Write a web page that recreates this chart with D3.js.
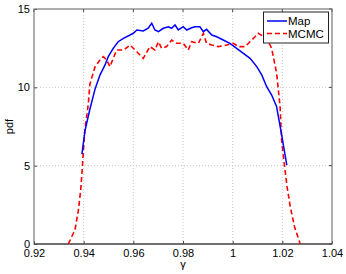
<!DOCTYPE html>
<html>
<head>
<meta charset="utf-8">
<script src="https://cdn.jsdelivr.net/npm/d3@7"></script>
<style>
  body { margin: 0; background: #fff; }
  text { font-family: "Liberation Sans", Arial, sans-serif; fill: #000; }
</style>
</head>
<body>
<div id="chart"></div>
<script>
// Map estimate
const mapGamma = [0.9393, 0.9405, 0.9425, 0.9446, 0.9466, 0.9486, 0.9499, 0.9519, 0.9539, 0.9560,
  0.9587, 0.9600, 0.9614, 0.9640, 0.9660, 0.9674, 0.9687, 0.9701, 0.9721, 0.9741, 0.9754, 0.9768,
  0.9781, 0.9801, 0.9815, 0.9835, 0.9848, 0.9868, 0.9882, 0.9895, 0.9916, 0.9936, 0.9962, 0.9989,
  1.0016, 1.0043, 1.0070, 1.0097, 1.0117, 1.0137, 1.0157, 1.0177, 1.0197, 1.0218];
const mapPdf = [5.74, 7.2, 8.6, 9.9, 10.8, 11.43, 11.96, 12.49, 12.91, 13.13,
  13.34, 13.45, 13.66, 13.6, 13.77, 14.09, 13.66, 13.55, 13.77, 13.87, 13.77, 13.98,
  13.66, 13.87, 13.66, 13.8, 13.87, 13.87, 13.55, 13.7, 13.34, 13.23, 13.02, 12.81,
  12.49, 12.17, 11.85, 11.32, 10.79, 10.04, 9.51, 8.76, 7.0, 5.04];

// MCMC samples
const mcmcGamma = [0.9338, 0.9365, 0.9379, 0.9388, 0.9394, 0.9399, 0.9405, 0.9419, 0.9425, 0.9446,
  0.9466, 0.9479, 0.9493, 0.9506, 0.9519, 0.9533, 0.9560, 0.9587, 0.9614, 0.9640, 0.9667, 0.9687,
  0.9701, 0.9714, 0.9734, 0.9754, 0.9775, 0.9801, 0.9821, 0.9835, 0.9862, 0.9882, 0.9895, 0.9916,
  0.9942, 0.9976, 1.0003, 1.0023, 1.0050, 1.0070, 1.0090, 1.0103, 1.0137, 1.0157, 1.0177, 1.0191,
  1.0197, 1.0206, 1.0219, 1.0232, 1.0249, 1.0272];
const mcmcPdf = [0, 0.9, 2.17, 3.45, 4.72, 6.0, 7.28, 8.98, 10.2, 11.32,
  11.74, 11.96, 11.74, 11.32, 11.85, 12.38, 12.38, 12.7, 12.27, 11.85, 12.6, 12.38,
  12.91, 12.49, 12.6, 13.02, 12.81, 12.81, 12.38, 12.91, 12.81, 13.45, 12.81, 12.7,
  12.6, 12.7, 12.81, 12.6, 12.6, 12.91, 13.23, 13.45, 13.13, 12.49, 10.9, 8.76,
  6.64, 5.36, 3.66, 2.38, 1.1, 0];

const xTicks = [0.92, 0.94, 0.96, 0.98, 1, 1.02, 1.04];
const yTicks = [0, 5, 10, 15];

const width = 346, height = 274;
const margin = { left: 34, right: 14, top: 9, bottom: 30 };

const svg = d3.select("#chart").append("svg")
  .attr("width", width)
  .attr("height", height);

const x = d3.scaleLinear()
  .domain([0.92, 1.04])
  .range([margin.left, width - margin.right]);

const y = d3.scaleLinear()
  .domain([0, 15])
  .range([height - margin.bottom, margin.top]);

const x0 = x.range()[0], x1 = x.range()[1];
const y0 = y.range()[0], y1 = y.range()[1];

// dotted grid
svg.append("g")
  .selectAll("line")
  .data(xTicks.slice(1, -1))
  .join("line")
  .attr("x1", d => x(d)).attr("x2", d => x(d))
  .attr("y1", y1).attr("y2", y0)
  .attr("stroke", "#c8c8c8").attr("stroke-dasharray", "1,2");

svg.append("g")
  .selectAll("line")
  .data(yTicks.slice(1, -1))
  .join("line")
  .attr("y1", d => y(d)).attr("y2", d => y(d))
  .attr("x1", x0).attr("x2", x1)
  .attr("stroke", "#c8c8c8").attr("stroke-dasharray", "1,2");

// axes (ticks inward)
const xAxis = svg.append("g")
  .attr("transform", `translate(0,${y0})`)
  .call(d3.axisBottom(x).tickValues(xTicks).tickSize(-3).tickPadding(5)
    .tickFormat(d => d === 1 ? "1" : d3.format(".2f")(d)));
const yAxis = svg.append("g")
  .attr("transform", `translate(${x0},0)`)
  .call(d3.axisLeft(y).tickValues(yTicks).tickSize(-3).tickPadding(4));

[xAxis, yAxis].forEach(g => {
  g.select(".domain").remove();
  g.selectAll("line").attr("stroke", "#444");
  g.selectAll("text").attr("font-size", 11).attr("font-family", "Liberation Sans, Arial, sans-serif");
});

// mirrored ticks on top and right
svg.append("g").selectAll("line").data(xTicks).join("line")
  .attr("x1", d => x(d)).attr("x2", d => x(d))
  .attr("y1", y1).attr("y2", y1 + 3).attr("stroke", "#444");
svg.append("g").selectAll("line").data(yTicks).join("line")
  .attr("y1", d => y(d)).attr("y2", d => y(d))
  .attr("x1", x1).attr("x2", x1 - 3).attr("stroke", "#444");

// box
svg.append("rect")
  .attr("x", x0).attr("y", y1)
  .attr("width", x1 - x0).attr("height", y0 - y1)
  .attr("fill", "none").attr("stroke", "#777").attr("stroke-width", 1.2);
svg.append("line")
  .attr("x1", x0).attr("x2", x1).attr("y1", y0).attr("y2", y0)
  .attr("stroke", "#333").attr("stroke-width", 1.2);

// curves
const line = d3.line().x(d => x(d[0])).y(d => y(d[1]));

svg.append("path")
  .datum(d3.zip(mcmcGamma, mcmcPdf))
  .attr("d", line)
  .attr("fill", "none")
  .attr("stroke", "#ff0000")
  .attr("stroke-width", 1.6)
  .attr("stroke-dasharray", "5,3");

svg.append("path")
  .datum(d3.zip(mapGamma, mapPdf))
  .attr("d", line)
  .attr("fill", "none")
  .attr("stroke", "#0000ff")
  .attr("stroke-width", 1.5);

// axis labels
svg.append("text")
  .attr("x", (x0 + x1) / 2)
  .attr("y", 268)
  .attr("text-anchor", "middle")
  .attr("font-size", 11)
  .text("γ");

svg.append("text")
  .attr("transform", `translate(13,${(y0 + y1) / 2}) rotate(-90)`)
  .attr("text-anchor", "middle")
  .attr("font-size", 11)
  .text("pdf");

// legend
const legend = svg.append("g");
legend.append("rect")
  .attr("x", 263.5).attr("y", 12)
  .attr("width", 65).attr("height", 31)
  .attr("fill", "#fff").attr("stroke", "#222").attr("stroke-width", 1);

const legendItems = [
  { label: "Map", color: "#0000ff", dash: null, yy: 21 },
  { label: "MCMC", color: "#ff0000", dash: "5,3", yy: 33.5 }
];
legendItems.forEach(d => {
  legend.append("line")
    .attr("x1", 267).attr("x2", 287)
    .attr("y1", d.yy).attr("y2", d.yy)
    .attr("stroke", d.color).attr("stroke-width", 1.5)
    .attr("stroke-dasharray", d.dash);
  legend.append("text")
    .attr("x", 288).attr("y", d.yy + 4)
    .attr("font-size", 11.5)
    .text(d.label);
});
</script>
</body>
</html>
